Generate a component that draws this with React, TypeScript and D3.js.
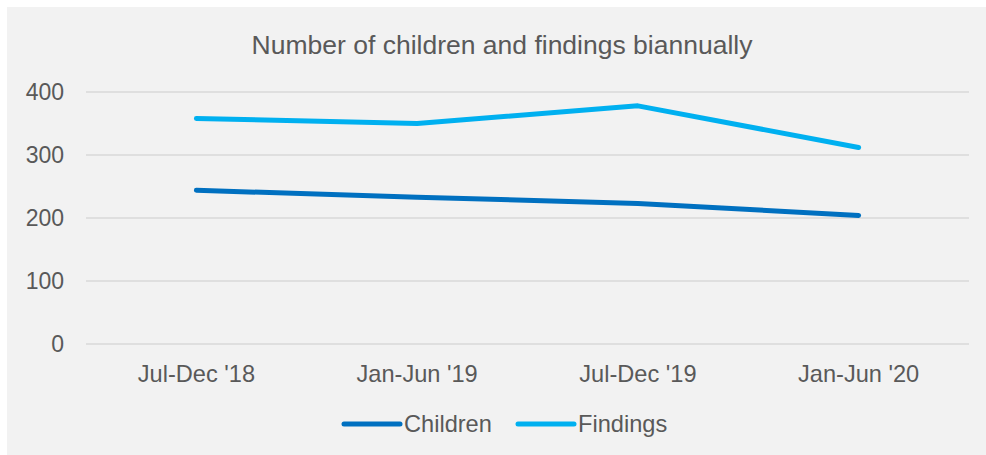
import React from "react";
import * as d3 from "d3";

const categories = ["Jul-Dec '18", "Jan-Jun '19", "Jul-Dec '19", "Jan-Jun '20"];
const children = [244, 233, 223, 204];
const findings = [358, 350, 378, 312];
const yTicks = [0, 100, 200, 300, 400];
const seriesNames = ["Children", "Findings"];
const seriesColors = ["#0070C0", "#00B0F0"];

const W = 986;
const H = 455;
const FONT = "'Liberation Sans', Arial, sans-serif";
const TEXT = "#595959";

export default function App() {
  const x = d3.scaleBand<string>().domain(categories).range([86, 969]);
  const y = d3.scaleLinear().domain([0, 400]).range([344, 92]);
  const line = d3
    .line<number>()
    .x((_, i) => (x(categories[i]) as number) + x.bandwidth() / 2)
    .y((d) => y(d));
  const series = [children, findings];

  return (
    <svg
      width={W}
      height={H}
      style={{ position: "absolute", left: 0, top: 0, display: "block" }}
      fontFamily={FONT}
    >
      <rect x={0} y={0} width={W} height={H} fill="#ffffff" />
      <rect x={7} y={7} width={W - 7} height={H - 7} fill="#f2f2f2" />
      <text x={502} y={54} textAnchor="middle" fontSize={26.5} fill={TEXT}>
        Number of children and findings biannually
      </text>
      {yTicks.map((t) => (
        <g key={t}>
          <line x1={86} x2={969} y1={y(t)} y2={y(t)} stroke="#d9d9d9" strokeWidth={1.3} />
          <text x={64} y={y(t)} dy="0.35em" textAnchor="end" fontSize={23} fill={TEXT}>
            {t}
          </text>
        </g>
      ))}
      {categories.map((c) => (
        <text
          key={c}
          x={(x(c) as number) + x.bandwidth() / 2}
          y={382}
          textAnchor="middle"
          fontSize={23.6}
          fill={TEXT}
        >
          {c}
        </text>
      ))}
      {series.map((s, i) => (
        <path
          key={i}
          d={line(s) as string}
          fill="none"
          stroke={seriesColors[i]}
          strokeWidth={5}
          strokeLinecap="round"
          strokeLinejoin="round"
        />
      ))}
      {seriesNames.map((n, i) => {
        const lx = [344, 518][i];
        return (
          <g key={n}>
            <line x1={lx} x2={lx + 56} y1={424} y2={424} stroke={seriesColors[i]} strokeWidth={5} strokeLinecap="round" />
            <text x={lx + 60} y={424} dy="0.35em" fontSize={23.6} fill={TEXT}>
              {n}
            </text>
          </g>
        );
      })}
    </svg>
  );
}
